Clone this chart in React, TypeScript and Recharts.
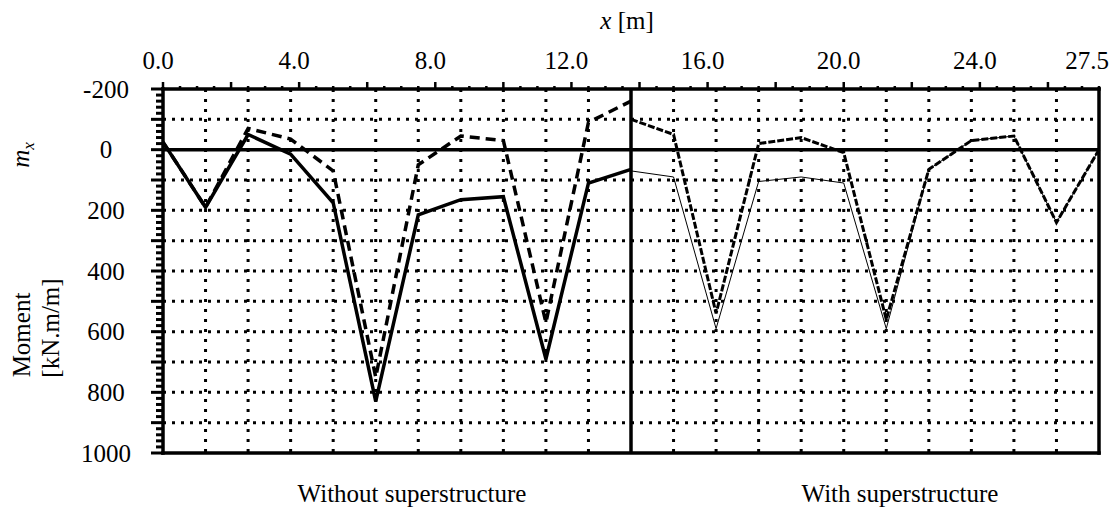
import { LineChart, Line, XAxis, YAxis, ReferenceLine } from "recharts";

// x positions (m) of the computed sections, left half and right half
const xLeft = [0, 1.25, 2.5, 3.75, 5, 6.25, 7.5, 8.75, 10, 11.25, 12.5, 13.75];
const xRight = [13.75, 15, 16.25, 17.5, 18.75, 20, 21.25, 22.5, 23.75, 25, 26.25, 27.5];

// moments mx [kN.m/m]
const solidLeft = [-25, 190, -50, 15, 175, 830, 215, 165, 155, 690, 110, 65];
const dashedLeft = [-25, 190, -70, -35, 70, 750, 50, -45, -30, 570, -90, -160];
const thickRight = [-100, -50, 540, -20, -40, 10, 560, 65, -30, -45, 240, 0];
const thinRight = [70, 90, 590, 105, 90, 110, 590, 65, -30, -45, 240, 0];

const xTicks = Array.from({ length: 56 }, (_, i) => i * 0.5);
const xLabels = [0, 4, 8, 12, 16, 20, 24, 27.5];
const yTicks = Array.from({ length: 61 }, (_, i) => -200 + i * 20);
const yLabels = [-200, 0, 200, 400, 600, 800, 1000];
const xGrid = [1.25, 2.5, 3.75, 5, 6.25, 7.5, 8.75, 10, 11.25, 12.5, 15, 16.25, 17.5, 18.75, 20, 21.25, 22.5, 23.75, 25, 26.25];
const yGrid = [-100, 100, 200, 300, 400, 500, 600, 700, 800, 900];

const rows: Record<string, number | undefined>[] = [];
xLeft.forEach((x, i) => rows.push({ x, solidLeft: solidLeft[i], dashedLeft: dashedLeft[i] }));
xRight.forEach((x, i) => {
  if (i === 0) {
    rows[rows.length - 1].thickRight = thickRight[0];
    rows[rows.length - 1].thinRight = thinRight[0];
  } else rows.push({ x, thickRight: thickRight[i], thinRight: thinRight[i] });
});

const font = "'Liberation Serif', 'Times New Roman', serif";

function XTick(props: any) {
  const { x, y, payload } = props;
  const v = payload.value;
  const major = Math.abs(v % 2) < 1e-6;
  const len = major ? 7 : 3;
  const lab = xLabels.includes(v);
  return (
    <g>
      <line x1={x} x2={x} y1={y} y2={y - len} stroke="#000" strokeWidth={2.5} />
      {lab && (
        <text x={v === 27.5 ? x - 12 : x - 5} y={y - 20} textAnchor="middle" style={{ fontFamily: font, fontSize: 25 }} fill="#000">
          {v.toFixed(1)}
        </text>
      )}
    </g>
  );
}

function YTick(props: any) {
  const { x, y, payload } = props;
  const v = payload.value;
  const len = v % 100 === 0 ? 12 : 7;
  return (
    <g>
      <line x1={x - len} x2={x} y1={y} y2={y} stroke="#000" strokeWidth={3} />
      {yLabels.includes(v) && (
        <text x={x - 57} y={y} dy="0.35em" textAnchor="middle" style={{ fontFamily: font, fontSize: 25 }} fill="#000">
          {v}
        </text>
      )}
    </g>
  );
}

export default function App() {
  return (
    <div style={{ position: "relative", width: 1109, height: 503 }}>
      <LineChart width={1109} height={503} data={rows} margin={{ top: 41, right: 18, bottom: 58, left: 55 }}>
        <XAxis
          type="number"
          dataKey="x"
          orientation="top"
          domain={[0, 27.5]}
          ticks={xTicks}
          interval={0}
          height={40}
          tickSize={0}
          tickMargin={0}
          tickLine={false}
          axisLine={{ stroke: "#000", strokeWidth: 3.5, strokeLinecap: "square" }}
          tick={<XTick />}
        />
        <YAxis
          type="number"
          domain={[-200, 1000]}
          reversed
          ticks={yTicks}
          interval={0}
          width={100}
          tickSize={0}
          tickMargin={0}
          tickLine={false}
          axisLine={{ stroke: "#000", strokeWidth: 3.5, strokeLinecap: "square" }}
          tick={<YTick />}
        />
        {yGrid.map((v) => (
          <ReferenceLine key={"y" + v} y={v} stroke="#000" strokeWidth={3} strokeDasharray="3 6" />
        ))}
        {xGrid.map((v) => (
          <ReferenceLine key={"x" + v} x={v} stroke="#000" strokeWidth={3} strokeDasharray="3 7" />
        ))}
        <ReferenceLine y={0} stroke="#000" strokeWidth={3.5} />
        <ReferenceLine y={1000} stroke="#000" strokeWidth={3.5} strokeLinecap="square" />
        <ReferenceLine x={13.75} stroke="#000" strokeWidth={3.5} />
        <ReferenceLine x={27.5} stroke="#000" strokeWidth={3.5} strokeLinecap="square" />
        <Line dataKey="solidLeft" type="linear" stroke="#000" strokeWidth={3.5} dot={false} isAnimationActive={false} />
        <Line dataKey="dashedLeft" type="linear" stroke="#000" strokeWidth={3.5} strokeDasharray="10 6" dot={false} isAnimationActive={false} />
        <Line dataKey="thinRight" type="linear" stroke="#000" strokeWidth={1} dot={false} isAnimationActive={false} />
        <Line dataKey="thickRight" type="linear" stroke="#000" strokeWidth={3} strokeDasharray="7 2" dot={false} isAnimationActive={false} />
      </LineChart>
      <svg width={1109} height={503} style={{ position: "absolute", left: 0, top: 0, pointerEvents: "none", fontFamily: font, fontSize: 25 }}>
        <text x={619} y={21} textAnchor="middle">
          <tspan fontStyle="italic">x</tspan> [m]
        </text>
        <text x={21} y={147} textAnchor="middle" transform="rotate(-90 21 147)">
          <tspan fontStyle="italic">m</tspan>
          <tspan fontStyle="italic" fontSize={17} dy={5}>x</tspan>
        </text>
        <text x={22} y={327} textAnchor="middle" transform="rotate(-90 22 327)">Moment</text>
        <text x={51} y={320} textAnchor="middle" transform="rotate(-90 51 320)">[kN.m/m]</text>
        <text x={404} y={494} textAnchor="middle">Without superstructure</text>
        <text x={892} y={494} textAnchor="middle">With superstructure</text>
      </svg>
    </div>
  );
}
